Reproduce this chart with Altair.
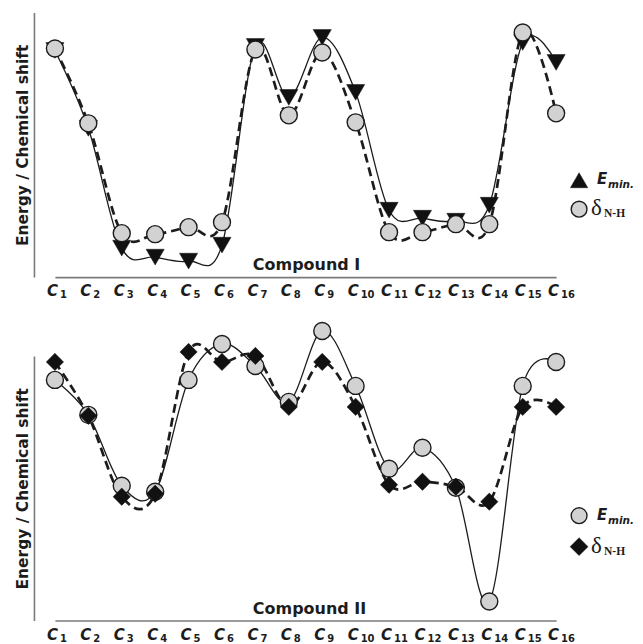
import altair as alt
import pandas as pd

# ---------------- data ----------------
labels = ["C1", "C2", "C3", "C4", "C5", "C6", "C7", "C8",
          "C9", "C10", "C11", "C12", "C13", "C14", "C15", "C16"]
subs = ["1", "2", "3", "4", "5", "6", "7", "8",
        "9", "10", "11", "12", "13", "14", "15", "16"]

# Compound I (arbitrary units)
c1_emin = [227, 149, 29, 20, 16, 32, 231, 180, 240, 185, 67, 59, 56, 72, 235, 215]
c1_dnh = [229, 154, 44, 43, 50, 55, 228, 162, 225, 155, 45, 45, 53, 53, 245, 164]

# Compound II
c2_emin = [241, 206, 135, 129, 241, 277, 255, 219, 290, 235, 152, 173, 133, 19, 235, 259]
c2_dnh = [259, 205, 124, 127, 269, 259, 265, 214, 259, 214, 136, 139, 134, 119, 214, 214]

titles = ["Compound I", "Compound II"]
legend_e = ["E", "min."]
legend_d = ["δ", "N-H"]

# ---------------- style ----------------
FONT = "DejaVu Sans"
SERIF = "Liberation Serif"
INK = "#1c1c1c"
GRAY = "#d2d2d2"
AXIS = "#7a7a7a"
W, H = 573, 265


def panel(emin, dnh, emin_style, dnh_style, title, leg):
    df = pd.DataFrame({"c": labels, "n": subs, "emin": emin, "dnh": dnh})
    base = alt.Chart(df)
    x = alt.X("c:N", sort=labels,
              scale=alt.Scale(type="point", range=[21, 523], padding=0),
              axis=alt.Axis(title=None, labels=False, ticks=False, grid=False,
                            domain=True, domainColor=AXIS, domainWidth=1.6))
    yscale = alt.Scale(domain=[0, H], nice=False, zero=False)
    yaxis = alt.Axis(title="Energy / Chemical shift", labels=False, ticks=False,
                     grid=False, domainColor=AXIS, domainWidth=1.6,
                     titleFont=FONT, titleFontSize=15.5, titleFontWeight="bold",
                     titleColor=INK, titlePadding=3)

    solid = base.mark_line(interpolate="cardinal", color=INK, strokeWidth=1.3).encode(
        x=x, y=alt.Y("emin:Q", scale=yscale, axis=yaxis))
    dashed = base.mark_line(interpolate="cardinal", color=INK, strokeWidth=2.7,
                            strokeDash=[9, 5]).encode(
        x=x, y=alt.Y("dnh:Q", scale=yscale, axis=yaxis))
    m_e = base.mark_point(opacity=1, **emin_style).encode(
        x=x, y=alt.Y("emin:Q", scale=yscale, axis=yaxis))
    m_d = base.mark_point(opacity=1, **dnh_style).encode(
        x=x, y=alt.Y("dnh:Q", scale=yscale, axis=yaxis))

    lab_c = base.mark_text(text="C", align="right", baseline="alphabetic", dx=3,
                           font=FONT, fontSize=15, fontStyle="italic",
                           fontWeight="bold", color=INK).encode(
        x=x, y=alt.value(H + 19))
    lab_n = base.mark_text(align="left", baseline="alphabetic", dx=5,
                           font=FONT, fontSize=10, fontWeight="bold",
                           color=INK).encode(
        x=x, y=alt.value(H + 21), text="n:N")

    tdf = pd.DataFrame({"t": [title]})
    ttl = alt.Chart(tdf).mark_text(align="center", baseline="alphabetic",
                                   font=FONT, fontSize=16, fontWeight="bold",
                                   color=INK).encode(
        x=alt.value(leg["tx"]), y=alt.value(H - 7), text="t:N")

    # legend
    ldf = pd.DataFrame({"e": [legend_e[0]], "em": [legend_e[1]],
                        "d": [legend_d[0]], "dm": [legend_d[1]]})
    lb = alt.Chart(ldf)
    s1 = lb.mark_point(opacity=1, **leg["s1"]).encode(
        x=alt.value(546), y=alt.value(leg["y1"]))
    s2 = lb.mark_point(opacity=1, **leg["s2"]).encode(
        x=alt.value(546), y=alt.value(leg["y2"]))
    t1 = lb.mark_text(align="left", baseline="alphabetic", font=FONT, fontSize=15,
                      fontStyle="italic", fontWeight="bold", color=INK).encode(
        x=alt.value(564), y=alt.value(leg["y1"] + 4), text="e:N")
    t1s = lb.mark_text(align="left", baseline="alphabetic", font=FONT, fontSize=10.5,
                       fontStyle="italic", fontWeight="bold", color=INK).encode(
        x=alt.value(575), y=alt.value(leg["y1"] + 8), text="em:N")
    t2 = lb.mark_text(align="left", baseline="alphabetic", font=SERIF, fontSize=23,
                      color=INK).encode(
        x=alt.value(leg["dx"]), y=alt.value(leg["y2"] + 6), text="d:N")
    t2s = lb.mark_text(align="left", baseline="alphabetic", font=SERIF, fontSize=11.5,
                       fontWeight="bold", color=INK).encode(
        x=alt.value(leg["dx"] + 13), y=alt.value(leg["y2"] + 8), text="dm:N")

    return alt.layer(solid, dashed, m_e, m_d, lab_c, lab_n, ttl,
                     s1, s2, t1, t1s, t2, t2s).properties(width=W, height=H)


tri = dict(shape="triangle-down", filled=True, fill="#111111", stroke="#111111",
           strokeWidth=0.5, size=330)
circ = dict(shape="circle", filled=True, fill=GRAY, stroke=INK, strokeWidth=1.4,
            size=290)
diam = dict(shape="diamond", filled=True, fill="#111111", stroke="#111111",
            strokeWidth=0.5, size=300)

leg1 = {"tx": 273, "y1": 168, "y2": 197, "dx": 558,
        "s1": dict(tri, shape="triangle-up", size=300),
        "s2": dict(circ, size=250)}
leg2 = {"tx": 276, "y1": 160, "y2": 191, "dx": 558,
        "s1": dict(circ, size=250),
        "s2": dict(diam, size=320)}

p1 = panel(c1_emin, c1_dnh, tri, circ, titles[0], leg1)
p2 = panel(c2_emin, c2_dnh, circ, diam, titles[1], leg2)

chart = alt.vconcat(p1, p2, spacing=79, bounds="flush").properties(
    padding={"left": 8, "top": 4, "right": 0, "bottom": 10}
).configure_view(stroke=None)

chart.save("out.html", embed_options={"renderer": "svg", "actions": False})
